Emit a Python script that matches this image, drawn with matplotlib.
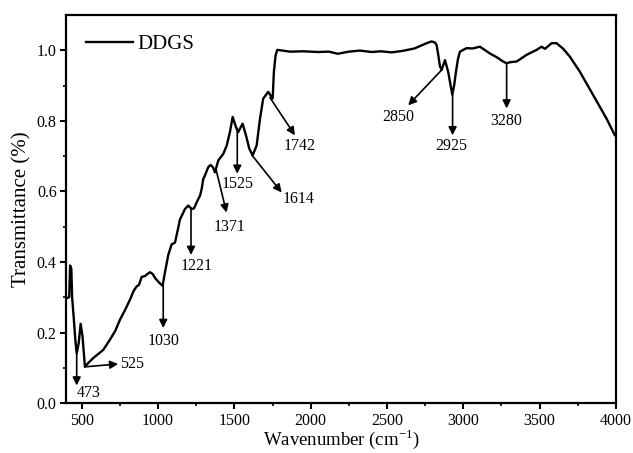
import matplotlib
matplotlib.use("Agg")
import matplotlib.pyplot as plt

plt.rcParams['font.family'] = ['Liberation Serif', 'DejaVu Serif']
plt.rcParams['mathtext.fontset'] = 'custom'
plt.rcParams['mathtext.rm'] = 'Liberation Serif'

# FTIR spectrum of DDGS
wavenumber = [401, 418, 424, 432, 437, 448, 458, 467, 480, 493, 505, 521,
              545, 576, 610, 641, 685, 720, 750, 785, 816, 840, 860, 875, 893, 914,
              930, 947, 965, 980, 1000, 1018, 1030, 1045, 1067, 1089, 1111, 1133,
              1143, 1160, 1176, 1198, 1220, 1236, 1253, 1275, 1286, 1296, 1307, 1329,
              1345, 1360, 1373, 1395, 1427, 1450, 1471, 1489, 1510, 1525, 1554, 1576,
              1598, 1620, 1646, 1668, 1689, 1722, 1751, 1759, 1770, 1781, 1800, 1864,
              1950, 2050, 2120, 2178, 2250, 2322, 2400, 2460, 2530, 2600, 2680, 2760,
              2792, 2814, 2825, 2836, 2847, 2858, 2880, 2901, 2915, 2928, 2940, 2952,
              2965, 2978, 3022, 3060, 3109, 3174, 3220, 3261, 3284, 3305, 3349, 3415,
              3480, 3513, 3535, 3579, 3611, 3655, 3698, 3764, 3851, 3939, 3993, 4000]
transmittance = [0.298, 0.30, 0.39, 0.38, 0.30, 0.24, 0.18, 0.14, 0.17, 0.225, 0.19, 0.103,
                 0.115, 0.128, 0.14, 0.151, 0.18, 0.205, 0.236, 0.265, 0.293, 0.318, 0.331, 0.335, 0.358, 0.36,
                 0.366, 0.371, 0.366, 0.355, 0.345, 0.337, 0.333, 0.37, 0.42, 0.45, 0.455, 0.498,
                 0.52, 0.535, 0.55, 0.56, 0.55, 0.552, 0.569, 0.588, 0.607, 0.635, 0.645, 0.669,
                 0.675, 0.668, 0.654, 0.688, 0.706, 0.73, 0.768, 0.811, 0.783, 0.768, 0.792, 0.759,
                 0.721, 0.702, 0.73, 0.806, 0.863, 0.882, 0.863, 0.939, 0.985, 1.001, 1.0, 0.996,
                 0.997, 0.995, 0.996, 0.99, 0.996, 0.999, 0.995, 0.997, 0.994, 0.998, 1.005, 1.02,
                 1.025, 1.022, 1.015, 0.987, 0.955, 0.944, 0.972, 0.939, 0.905, 0.874, 0.9, 0.939,
                 0.975, 0.996, 1.006, 1.005, 1.01, 0.991, 0.98, 0.968, 0.963, 0.966, 0.968, 0.987,
                 1.001, 1.01, 1.004, 1.02, 1.02, 1.004, 0.982, 0.939, 0.873, 0.806, 0.759, 0.759]

# Annotations: label, arrow start (x, y), arrow end (x, y), label position (x, y), alignment
ann_labels = ['473', '525', '1030', '1221', '1371', '1525', '1614', '1742', '2850', '2925', '3280']
ann_start = [(467, 0.137), (521, 0.103), (1034, 0.333), (1216, 0.553), (1380, 0.662), (1519, 0.770),
             (1613, 0.704), (1733, 0.866), (2858, 0.944), (2930, 0.874), (3284, 0.963)]
ann_end = [(467, 0.050), (739, 0.111), (1034, 0.213), (1216, 0.42), (1449, 0.54), (1519, 0.65),
           (1810, 0.597), (1897, 0.759), (2639, 0.844), (2930, 0.759), (3284, 0.835)]
ann_text = [(543, 0.03), (750, 0.111), (1034, 0.175), (1253, 0.388), (1471, 0.498), (1519, 0.62),
            (1919, 0.578), (1930, 0.73), (2574, 0.811), (2923, 0.73), (3284, 0.80)]
ann_ha = ['center', 'left', 'center', 'center', 'center', 'center', 'center', 'center', 'center', 'center', 'center']

fig = plt.figure(figsize=(6.33, 4.53), dpi=100)
ax = fig.add_axes([0.105, 0.110, 0.868, 0.857])

ax.plot(wavenumber, transmittance, color='black', lw=1.7, label='DDGS')

for lab, s, e, t, ha in zip(ann_labels, ann_start, ann_end, ann_text, ann_ha):
    ax.annotate('', xy=e, xytext=s,
                arrowprops=dict(arrowstyle='-|>', color='black', lw=1.2,
                                mutation_scale=12, shrinkA=0, shrinkB=0))
    ax.text(t[0], t[1], lab, ha=ha, va='center', fontsize=11.5)

ax.set_xlim(400, 4000)
ax.set_ylim(0, 1.1)
ax.set_xticks([500, 1000, 1500, 2000, 2500, 3000, 3500, 4000])
ax.set_xticks([750, 1250, 1750, 2250, 2750, 3250, 3750], minor=True)
ax.set_yticks([0.0, 0.2, 0.4, 0.6, 0.8, 1.0])
ax.set_yticks([0.1, 0.3, 0.5, 0.7, 0.9], minor=True)
ax.yaxis.set_major_formatter(matplotlib.ticker.FormatStrFormatter('%.1f'))
ax.tick_params(which='major', direction='out', length=4, width=1.5, labelsize=11.5,
               top=False, right=False, pad=3)
ax.tick_params(which='minor', direction='out', length=2.5, width=1.2, top=False, right=False)
for sp in ax.spines.values():
    sp.set_linewidth(1.6)

ax.set_xlabel('Wavenumber (cm$^{\\mathregular{-1}}$)', fontsize=13.5, labelpad=-1)
ax.set_ylabel('Transmittance (%)', fontsize=15, labelpad=4)

leg = ax.legend(loc='upper left', frameon=False, fontsize=15, handlelength=2.25,
                handletextpad=0.2, bbox_to_anchor=(0.0, 1.0), borderaxespad=0.55)

fig.savefig('out.png', dpi=100)
